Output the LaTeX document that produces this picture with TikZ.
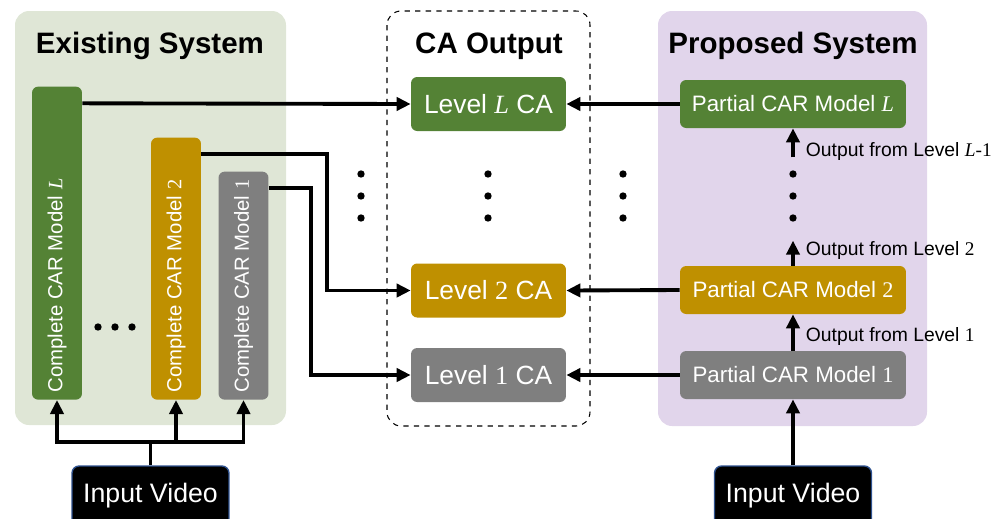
\documentclass[tikz,border=0pt]{standalone}
\usepackage{fontspec}
\setmainfont{Liberation Sans}
\newfontfamily\tnr{Liberation Serif}
\usetikzlibrary{arrows.meta,calc}
\definecolor{carL}{HTML}{548235}
\definecolor{carT}{HTML}{BF9000}
\definecolor{carG}{HTML}{7F7F7F}
\definecolor{oldbg}{HTML}{DFE6D6}
\definecolor{newbg}{HTML}{E1D5EB}
\definecolor{vidline}{HTML}{2F528F}
\newcommand{\Lv}{{\tnr\itshape L}}
\newcommand{\nm}[1]{{\tnr #1}}

\begin{document}
\begin{tikzpicture}[x=0.02cm,y=-0.02cm,
	panel/.style={rounded corners=8pt},
	head/.style={font=\bfseries\fontsize{16.8}{20}\selectfont,anchor=base},
	box/.style={rounded corners=3.5pt,text=white,inner sep=0},
	cabox/.style={box,minimum width=3.1cm,minimum height=1.08cm,font=\fontsize{15}{18}\selectfont},
	pbox/.style={box,minimum width=4.52cm,minimum height=0.96cm,font=\fontsize{12.7}{15}\selectfont},
	ctext/.style={text=white,rotate=90,anchor=west,inner sep=0,font=\fontsize{11.6}{14}\selectfont},
	video/.style={rounded corners=4pt,fill=black,draw=vidline,line width=0.8pt,text=white,minimum width=3.14cm,minimum height=1.2cm,font=\fontsize{15.2}{18}\selectfont},
	note/.style={right=0.22cm,inner sep=0,font=\fontsize{11}{13}\selectfont},
	line/.style={line width=2.2pt},
	arr/.style={line,-{Triangle[length=8pt,width=7.5pt]}}]
	\useasboundingbox (0,0) rectangle (1000,518);
	\fill[panel,oldbg] (15,11) rectangle (286,425);
	\fill[panel,newbg] (658,11) rectangle (927,426);
	\draw[panel,dashed,line width=0.6pt] (387,11) rectangle (590,426);
	\node[head] (hOld) at (150,53) {Existing System};
	\node[head] (hCA) at (489,53) {CA Output};
	\node[head] (hNew) at (793,53) {Proposed System};
	\foreach \n/\c/\x/\t/\lab in {L/carL/57/87/\Lv,2/carT/176/138/\nm{2},1/carG/243.5/172/\nm{1}} {
		\node[box,fill=\c,minimum width=1cm,minimum height={(400-\t)*0.02cm},anchor=south] (cm\n) at (\x,400) {};
		\node[ctext] (cm\n-t) at (\x,393) {Complete CAR Model \lab};
	}
	\foreach \n/\c/\y/\lab in {L/carL/104/\Lv,2/carT/290.5/\nm{2},1/carG/375/\nm{1}} \node[cabox,fill=\c] (ca\n) at (488.5,\y) {Level \lab{} CA};
	\foreach \n/\c/\y/\lab in {L/carL/104/\Lv,2/carT/290/\nm{2},1/carG/375/\nm{1}} \node[pbox,fill=\c] (pm\n) at (793,\y) {Partial CAR Model \lab};
	\foreach \y in {174,196,218} \foreach \x in {361,488,623,793} \fill (\x,\y) circle (2.1pt);
	\foreach \x in {98,115,132} \fill (\x,327) circle (2.1pt);
	\node[video] (vidOld) at (150.5,496) {Input Video};
	\node[video] (vidNew) at (793,496) {Input Video};
	\draw[line] (vidOld.north) -- ++(0,-23) coordinate (split);
	\foreach \n in {L,2,1} \draw[arr] (split) -| (cm\n.south);
	\draw[arr] (vidNew.north) -- (pm1.south);
	\draw[arr] ($(cmL.north east)+(0,17)$) -- (caL.west);
	\draw[arr] ($(cm2.north east)+(0,17)$) -| ($(ca2.west)+(-84,0)$) -- (ca2.west);
	\draw[arr] ($(cm1.north east)+(0,17)$) -| ($(ca1.west)+(-100,0)$) -- (ca1.west);
	\foreach \n in {L,2,1} \draw[arr] (pm\n.west) -- (ca\n.east);
	\draw[arr] (pm1.north) -- (pm2.south) node[note,pos=0.4] (out1) {Output from Level \nm{1}};
	\draw[arr] (pm2.north) -- ++(0,-25) node[note,pos=0.6] (out2) {Output from Level \nm{2}};
	\draw[arr] ($(pmL.south)+(0,29)$) -- (pmL.south) node[note,pos=0.2] (outL) {Output from Level \Lv\nm{-1}};
\end{tikzpicture}
\end{document}
